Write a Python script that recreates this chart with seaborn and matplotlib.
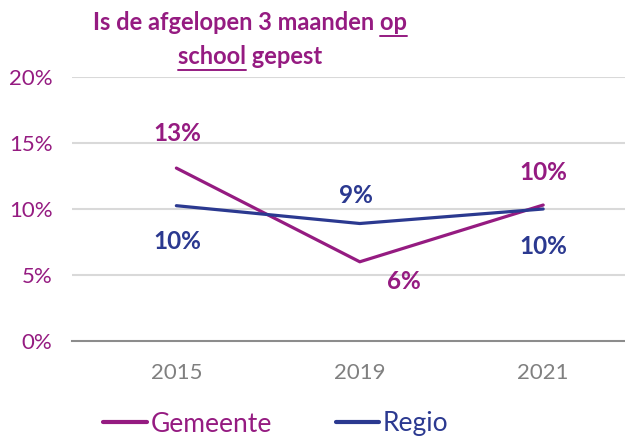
import pandas as pd
import matplotlib.pyplot as plt
import seaborn as sns

# waarden
jaren = ['2015', '2019', '2021']
gemeente = [13.1, 6.0, 10.3]
regio = [10.25, 8.9, 10.0]
gemeente_labels = ['13%', '6%', '10%']
regio_labels = ['10%', '9%', '10%']
y_ticks = [0, 5, 10, 15, 20]

paars = '#951B81'
blauw = '#2B3990'
grijs = '#808080'

df = pd.DataFrame({
    'jaar': jaren * 2,
    'pct': gemeente + regio,
    'groep': ['Gemeente'] * 3 + ['Regio'] * 3,
})

sns.set_style('white')
plt.rcParams['font.family'] = ['Lato', 'DejaVu Sans']

fig = plt.figure(figsize=(6.25, 4.38), dpi=100)
ax = fig.add_axes([0.1152, 0.2215, 0.8848, 0.6027])

sns.lineplot(data=df, x='jaar', y='pct', hue='groep', sort=False,
             palette={'Gemeente': paars, 'Regio': blauw},
             linewidth=2.3, ax=ax, legend=False)

ax.set_xlim(-0.569, 2.446)
ax.set_ylim(0, 20)
ax.set_yticks(y_ticks)
ax.set_yticklabels([f'{t}%' for t in y_ticks], color=paars, fontsize=16)
ax.tick_params(axis='y', length=0, pad=14)
ax.tick_params(axis='x', length=0, pad=16, labelsize=16, labelcolor=grijs)
ax.set_xlabel('')
ax.set_ylabel('')
for t in y_ticks[1:]:
    ax.axhline(t, color='#D9D9D9', lw=1.5, zorder=0)
for s in ['top', 'right', 'left']:
    ax.spines[s].set_visible(False)
ax.spines['bottom'].set_color('#8C8C8C')
ax.spines['bottom'].set_linewidth(1.5)

# data labels
g_off = [(1, 35), (44, -20), (0, 33)]
r_off = [(1, -36), (-4, 28), (0, -38)]
for i in range(3):
    ax.annotate(gemeente_labels[i], (i, gemeente[i]), xytext=g_off[i],
                textcoords='offset pixels', ha='center', va='center',
                color=paars, fontsize=17.5, fontweight='bold')
    ax.annotate(regio_labels[i], (i, regio[i]), xytext=r_off[i],
                textcoords='offset pixels', ha='center', va='center',
                color=blauw, fontsize=17.5, fontweight='bold')

# titel met onderstreepte woorden
fs_titel = 17
cx = 250 / 625
regel1 = 'Is de afgelopen 3 maanden op'
regel2 = 'school gepest'
y1 = 1 - 23 / 438
y2 = 1 - 57 / 438
t1 = fig.text(cx, y1, regel1, ha='center', va='center', color=paars,
              fontsize=fs_titel, fontweight='bold')
t2 = fig.text(cx, y2, regel2, ha='center', va='center', color=paars,
              fontsize=fs_titel, fontweight='bold')
fig.canvas.draw()
r = fig.canvas.get_renderer()
m_op = fig.text(0, 0, 'op', fontsize=fs_titel, fontweight='bold', alpha=0)
m_school = fig.text(0, 0, 'school', fontsize=fs_titel, fontweight='bold', alpha=0)
b1 = t1.get_window_extent(r)
b2 = t2.get_window_extent(r)
w_op = m_op.get_window_extent(r).width
w_school = m_school.get_window_extent(r).width
W, H = fig.bbox.width, fig.bbox.height
uy1 = (b1.y0 - 1) / H
uy2 = (b2.y0 - 1) / H
fig.add_artist(plt.Line2D([(b1.x1 - w_op) / W, b1.x1 / W], [uy1, uy1],
                          color=paars, lw=1.4))
fig.add_artist(plt.Line2D([b2.x0 / W, (b2.x0 + w_school) / W], [uy2, uy2],
                          color=paars, lw=1.4))

# legenda
handles = [plt.Line2D([], [], color=paars, lw=3),
           plt.Line2D([], [], color=blauw, lw=3)]
leg = fig.legend(handles, ['Gemeente', 'Regio'], loc='center',
                 bbox_to_anchor=(276 / 625, 14 / 438), ncol=2, frameon=False,
                 fontsize=19, handlelength=1.65, handletextpad=0.15,
                 columnspacing=2.4)
for txt, c in zip(leg.get_texts(), [paars, blauw]):
    txt.set_color(c)

fig.savefig('out.png', dpi=100)
